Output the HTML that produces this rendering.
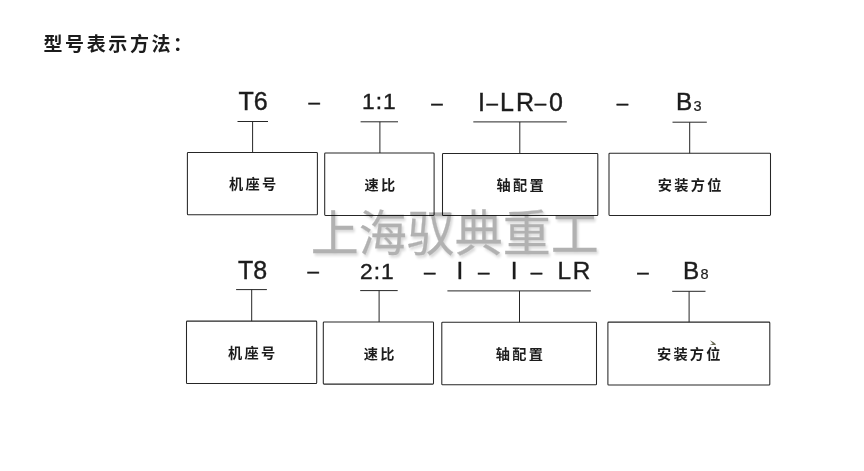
<!DOCTYPE html>
<html lang="zh-CN">
<head>
<meta charset="utf-8">
<title>型号表示方法</title>
<style>
html,body{margin:0;padding:0;background:#fff;}
body{width:864px;height:471px;overflow:hidden;position:relative;}
svg{position:absolute;left:0;top:0;display:block;}
text{fill:#1c1c1c;}
.lat{font-family:"Liberation Sans",sans-serif;font-size:25px;stroke:#1c1c1c;stroke-width:.4px;}
.latb{font-family:"Liberation Sans",sans-serif;font-size:24.3px;stroke:#1c1c1c;stroke-width:.4px;}
.lat2{font-family:"Liberation Sans",sans-serif;font-size:22.8px;letter-spacing:1px;stroke:#1c1c1c;stroke-width:.4px;}
.dash{font-family:"Liberation Sans",sans-serif;font-size:20.5px;stroke:#1c1c1c;stroke-width:.5px;}
.sub{font-family:"Liberation Sans",sans-serif;font-size:14.5px;stroke:#1c1c1c;stroke-width:.2px;}
.cn{font-family:"Liberation Sans","Noto Sans CJK SC",sans-serif;font-size:14.2px;font-weight:700;letter-spacing:2.3px;}
.title{font-family:"Liberation Sans","Noto Sans CJK SC",sans-serif;font-size:19px;font-weight:700;letter-spacing:2.6px;}
.wm{font-family:"Liberation Sans","Noto Sans CJK SC",sans-serif;font-size:48px;font-weight:400;fill:#000;stroke:#000;stroke-width:.25px;opacity:.3;}
.ln{stroke:#262626;stroke-width:1;fill:none;}
.bx{stroke:#262626;stroke-width:1.05;fill:none;}
</style>
</head>
<body>
<svg width="864" height="471" viewBox="0 0 864 471">
<defs><filter id="sh" x="-5%" y="-20%" width="110%" height="150%"><feDropShadow dx="1.6" dy="2.2" stdDeviation="1.3" flood-color="#000" flood-opacity="0.55"/></filter></defs>
<g id="lines">
<rect class="bx" rx="0.8" x="187.4" y="152.5" width="130.0" height="62.3"/>
<rect class="bx" rx="0.8" x="324.7" y="153.0" width="109.4" height="62.4"/>
<rect class="bx" rx="0.8" x="442.5" y="153.4" width="155.3" height="62.1"/>
<rect class="bx" rx="0.8" x="609.0" y="153.3" width="161.5" height="62.1"/>
<rect class="bx" rx="0.8" x="186.5" y="321.1" width="130.2" height="62.4"/>
<rect class="bx" rx="0.8" x="323.3" y="322.0" width="110.2" height="62.1"/>
<rect class="bx" rx="0.8" x="441.8" y="322.3" width="154.7" height="62.5"/>
<rect class="bx" rx="0.8" x="607.9" y="322.1" width="161.9" height="62.9"/>
<path class="ln" d="M237.5 121.5H268.0M252.6 121.5V152.4M360.6 121.8H398.0M379.9 121.8V153.0M473.3 121.9H566.8M519.8 121.9V153.4M672.5 122.2H706.8M689.7 122.2V153.3M236.1 289.6H266.9M251.7 289.6V321.1M360.2 290.6H397.7M379.1 290.6V322.0M447.4 290.9H590.9M519.5 290.9V322.3M672.2 291.3H705.5M689.1 291.3V322.1"/>
</g>
<g id="texts" opacity="0.999">
<text id="t6" class="lat" x="238.50" y="110.00">T6</text>
<text id="d1a" class="dash" x="308.50" y="108.90">–</text>
<text id="r11" class="lat2" x="362.00" y="109.30">1:1</text>
<text id="d1b" class="dash" x="431.30" y="110.10">–</text>
<text id="i1" class="lat" x="478.00" y="110.50">I</text>
<text id="d1c" class="dash" x="486.60" y="109.90">–</text>
<text id="l1" class="lat" x="500.00" y="110.50">L</text>
<text id="rr1" class="lat" x="516.00" y="110.50">R</text>
<text id="d1d" class="dash" x="534.80" y="109.90">–</text>
<text id="z1" class="lat" x="549.00" y="110.50">0</text>
<text id="d1e" class="dash" x="616.70" y="109.90">–</text>
<text id="b1" class="latb" x="676.10" y="110.40">B</text>
<text id="s3" class="sub" x="693.50" y="110.50">3</text>
<text id="t8" class="lat" x="238.00" y="278.80">T8</text>
<text id="d2a" class="dash" x="307.40" y="277.70">–</text>
<text id="r21" class="lat2" x="360.00" y="278.80">2:1</text>
<text id="d2b" class="dash" x="424.10" y="278.50">–</text>
<text id="i2a" class="latb" x="456.60" y="279.40">I</text>
<text id="d2c" class="dash" x="478.00" y="278.90">–</text>
<text id="i2b" class="latb" x="510.80" y="279.40">I</text>
<text id="d2d" class="dash" x="530.70" y="278.90">–</text>
<text id="l2" class="latb" x="557.60" y="279.40">L</text>
<text id="rr2" class="latb" x="572.80" y="279.40">R</text>
<text id="d2e" class="dash" x="637.20" y="278.90">–</text>
<text id="b2" class="latb" x="683.10" y="279.30">B</text>
<text id="s8" class="sub" x="700.60" y="279.40">8</text>
<text id="c11" class="cn" x="229.00" y="189.40">机座号</text>
<text id="c12" class="cn" x="364.50" y="189.70">速比</text>
<text id="c13" class="cn" x="496.50" y="189.90">轴配置</text>
<text id="c14" class="cn" x="657.80" y="189.90">安装方位</text>
<text id="c21" class="cn" x="228.10" y="358.40">机座号</text>
<text id="c22" class="cn" x="363.70" y="358.70">速比</text>
<text id="c23" class="cn" x="495.80" y="359.20">轴配置</text>
<text id="c24" class="cn" x="656.90" y="359.00">安装方位</text>
<text id="title" class="title" x="43.50" y="51.00">型号表示方法：</text>
</g>
<text id="wm" class="wm" x="310.8" y="251.4" transform="translate(0 251.4) scale(1 1.03) translate(0 -251.4)" filter="url(#sh)">上海驭典重工</text>
<path d="M710 340.2L713.6 342.3L716 344.3L715.2 345L709.9 344.9L712.8 343.7Z" fill="#4d4d36" opacity=".85"/>
</svg>
</body>
</html>
